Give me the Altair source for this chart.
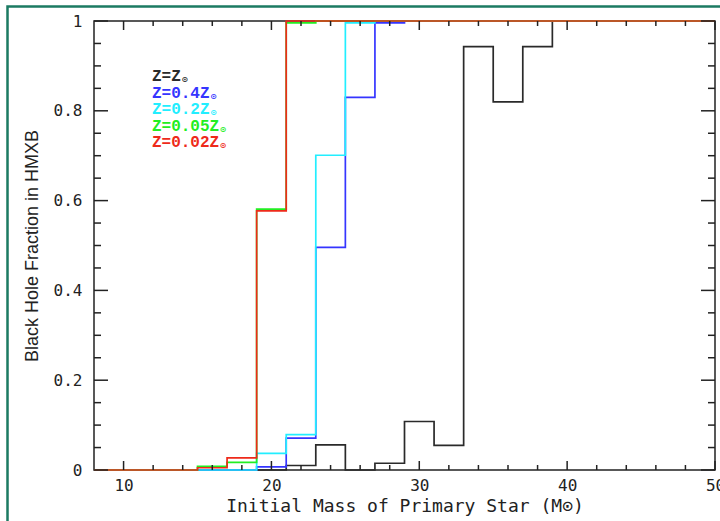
import altair as alt
import pandas as pd

# Bin edges (initial primary mass, solar masses); each value holds until the next edge
edges = [8, 15, 17, 19, 21, 23, 25, 27, 29, 31, 33, 35, 37, 39, 50]

# Black-hole fraction among HMXBs for each metallicity, one value per edge
frac_z1 = [0, 0, 0, 0, 0.010, 0.056, 0, 0.015, 0.108, 0.055, 0.943, 0.820, 0.943, 1, 1]
frac_z04 = [0, 0, 0, 0.007, 0.071, 0.496, 0.830, 0.996, 1, 1, 1, 1, 1, 1, 1]
frac_z02 = [0, 0, 0, 0.037, 0.079, 0.701, 0.996, 1, 1, 1, 1, 1, 1, 1, 1]
frac_z005 = [0, 0.008, 0.017, 0.581, 0.996, 1, 1, 1, 1, 1, 1, 1, 1, 1, 1]
frac_z002 = [0, 0.005, 0.027, 0.577, 1, 1, 1, 1, 1, 1, 1, 1, 1, 1, 1]

labels = ["Z=Z", "Z=0.4Z", "Z=0.2Z", "Z=0.05Z", "Z=0.02Z"]
colors = ["#2a2a2a", "#3535ff", "#22eeff", "#22ee22", "#ee2a1a"]
series = [frac_z1, frac_z04, frac_z02, frac_z005, frac_z002]

# Axis tick positions
x_major = [10, 20, 30, 40, 50]
x_minor = [12, 14, 16, 18, 22, 24, 26, 28, 32, 34, 36, 38, 42, 44, 46, 48]
y_major = [0, 0.2, 0.4, 0.6, 0.8, 1]
y_minor = [0.05, 0.1, 0.15, 0.25, 0.3, 0.35, 0.45, 0.5, 0.55,
           0.65, 0.7, 0.75, 0.85, 0.9, 0.95]

W, H = 621, 449
X_DOMAIN = [8, 50]
FRAME = "#222222"

rows = []
for name, vals in zip(labels, series):
    for m, f in zip(edges, vals):
        rows.append({"series": name, "mass": m, "frac": f})
hist = pd.DataFrame(rows)

x_enc = alt.X(
    "mass:Q",
    scale=alt.Scale(domain=X_DOMAIN, nice=False, zero=False),
    axis=alt.Axis(
        values=x_major, format="d", ticks=False, domain=False, grid=False,
        labelFont="DejaVu Sans Mono", labelFontSize=16, labelColor=FRAME,
        labelPadding=7, labelFlush=False,
        title="Initial Mass of Primary Star (M\u2299)",
        titleFont="DejaVu Sans Mono", titleFontSize=18, titleFontWeight="normal",
        titleColor=FRAME, titleY=36, titleBaseline="middle",
    ),
)
y_enc = alt.Y(
    "frac:Q",
    scale=alt.Scale(domain=[0, 1], nice=False),
    axis=alt.Axis(
        values=y_major, format="~g", ticks=False, domain=False, grid=False,
        labelFont="DejaVu Sans Mono", labelFontSize=16, labelColor=FRAME,
        labelPadding=12, labelFlush=False,
        title="Black Hole Fraction in HMXB",
        titleFont="Liberation Sans", titleFontSize=18, titleFontWeight="normal",
        titleColor=FRAME, titleX=-62, titleBaseline="middle",
    ),
)

layers = []

# Outer border around the figure
border = alt.Chart(pd.DataFrame({"k": [0]})).mark_rect(
    fill="transparent", stroke="#1b7a62", strokeWidth=2.5, clip=False
).encode(
    x=alt.value(-86.5), x2=alt.value(W + 20),
    y=alt.value(-14.5), y2=alt.value(H + 80),
)
layers.append(border)

# Step histograms, drawn black first and red last
for name, col in zip(labels, colors):
    line = alt.Chart(hist).transform_filter(
        alt.datum.series == name
    ).mark_line(
        interpolate="step-after", color=col, strokeWidth=1.7
    ).encode(x=x_enc, y=y_enc, order="mass:Q")
    layers.append(line)


# Inward tick marks on all four sides of the frame
def xticks(vals, length):
    d = pd.DataFrame({"mass": vals})
    base = alt.Chart(d).mark_rule(color=FRAME, strokeWidth=1.5)
    bottom = base.encode(x=x_enc, y=alt.value(H), y2=alt.value(H - length))
    top = base.encode(x=x_enc, y=alt.value(0), y2=alt.value(length))
    return [bottom, top]


def yticks(vals, length):
    d = pd.DataFrame({"frac": vals})
    base = alt.Chart(d).mark_rule(color=FRAME, strokeWidth=1.5)
    left = base.encode(y=y_enc, x=alt.value(0), x2=alt.value(length))
    right = base.encode(y=y_enc, x=alt.value(W), x2=alt.value(W - length))
    return [left, right]


layers += xticks(x_major, 9) + xticks(x_minor, 5)
layers += yticks(y_major, 14) + yticks(y_minor, 7)

# Metallicity key in the upper left
key_x = 11.92
key_top = 0.8775
key_step = 0.0368
key_font = 16
char_w = key_font * 0.6  # advance of the monospace key font, px
units_per_px = (X_DOMAIN[1] - X_DOMAIN[0]) / W
key = pd.DataFrame({
    "label": labels,
    "mass": [key_x] * len(labels),
    "frac": [key_top - i * key_step for i in range(len(labels))],
})
key_sun = pd.DataFrame({
    "label": labels,
    "mass": [key_x + (len(s) * char_w + 4) * units_per_px for s in labels],
    "frac": [key_top - i * key_step for i in range(len(labels))],
    "sun": ["\u2299"] * len(labels),
})
color_scale = alt.Scale(domain=labels, range=colors)
key_text = alt.Chart(key).mark_text(
    align="left", baseline="middle", font="Liberation Mono",
    fontSize=key_font, fontWeight="bold",
).encode(
    x=x_enc, y=y_enc,
    text="label:N", color=alt.Color("label:N", scale=color_scale, legend=None),
)
key_sub = alt.Chart(key_sun).mark_text(
    align="center", baseline="middle", font="DejaVu Sans",
    fontSize=8, fontWeight="bold", dy=4,
).encode(
    x=x_enc, y=y_enc,
    text="sun:N", color=alt.Color("label:N", scale=color_scale, legend=None),
)
layers += [key_text, key_sub]

chart = alt.layer(*layers).properties(
    width=W, height=H,
    autosize=alt.AutoSizeParams(type="none"),
    padding={"left": 94, "top": 21, "right": 5, "bottom": 51},
    background="white",
).configure_view(stroke=FRAME, strokeWidth=1.5)

chart.save("out.html", embed_options={"renderer": "svg", "actions": False})
